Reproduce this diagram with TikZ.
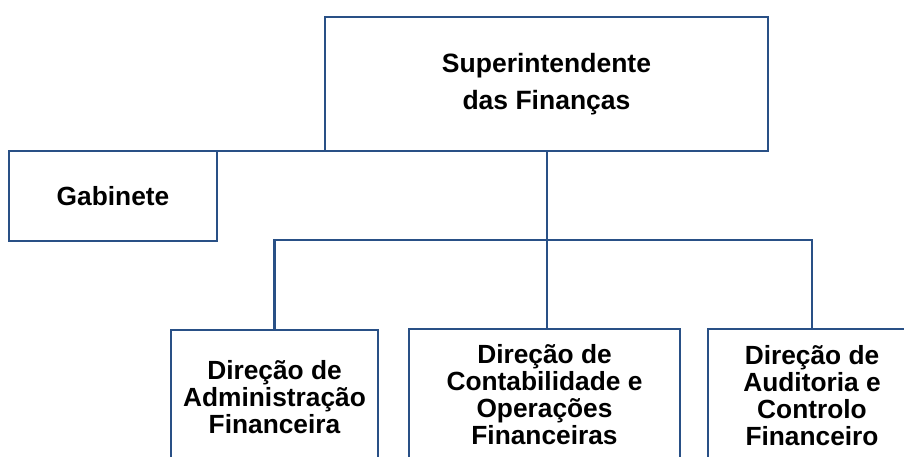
\documentclass[tikz,border=0pt]{standalone}
\usepackage{fontspec}
\setmainfont{Liberation Sans}
\definecolor{boxblue}{RGB}{41,80,134}
\begin{document}
\begin{tikzpicture}[x=1pt,y=1pt,
  orgbox/.style={draw=boxblue, line width=2.8pt, rectangle, inner sep=0pt, outer sep=0pt, align=center, font=\bfseries\fontsize{26.3}{27}\selectfont},
  link/.style={draw=boxblue, line width=2.8pt}]
\useasboundingbox (0,0) rectangle (904,-457);
\clip (0,0) rectangle (904,-457);
\node[orgbox, minimum width=443pt, minimum height=134pt, font=\bfseries\fontsize{26.5}{37.5}\selectfont] (sup) at (546.5,-84) {Superintendente\\das Finanças};
\node[orgbox, minimum width=208pt, minimum height=90pt] (gab) at (113,-196) {Gabinete};
\node[orgbox, minimum width=207pt, minimum height=135pt] (c1) at (274.5,-397.5) {Direção de\\Administração\\Financeira};
\node[orgbox, minimum width=271pt, minimum height=131pt] (c2) at (544.5,-394.5) {Direção de\\Contabilidade e\\Operações\\Financeiras};
\node[orgbox, minimum width=208pt, minimum height=134pt] (c3) at (812,-396) {Direção de\\Auditoria e\\Controlo\\Financeiro};
\coordinate (bus) at (547,-240);
\draw[link] (gab.north east) -- (sup.south west);
\draw[link] (sup.south -| bus) -- (bus);
\draw[link] (bus) -- (bus |- c2.north);
\draw[link] (bus) -| (c1.north);
\draw[link] (bus) -| (c3.north);
\end{tikzpicture}
\end{document}
